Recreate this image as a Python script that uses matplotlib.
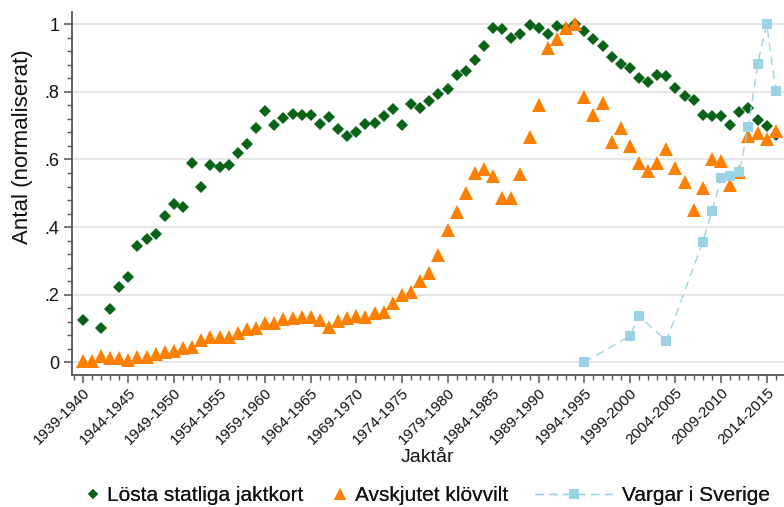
import numpy as np
import matplotlib
matplotlib.use("Agg")
import matplotlib.pyplot as plt
from matplotlib.lines import Line2D
from matplotlib.ticker import FixedLocator, MultipleLocator

plt.rcParams['font.family'] = ['Liberation Sans', 'DejaVu Sans']

years = np.arange(1939, 2016)

jaktkort = [0.125, np.nan, 0.101, 0.158, 0.223, 0.251, 0.345, 0.366, 0.379, 0.432,
            0.469, 0.460, 0.589, 0.518, 0.584, 0.579, 0.584, 0.620, 0.646, 0.694,
            0.744, 0.702, 0.722, 0.736, 0.732, 0.732, 0.704, 0.725, 0.690, 0.670,
            0.682, 0.704, 0.707, 0.728, 0.749, 0.703, 0.765, 0.751, 0.773, 0.793,
            0.809, 0.850, 0.863, 0.894, 0.937, 0.990, 0.985, 0.960, 0.970, 0.998,
            0.990, 0.970, 0.995, 0.990, 1.000, 0.981, 0.955, 0.937, 0.904, 0.883,
            0.871, 0.842, 0.829, 0.851, 0.846, 0.810, 0.788, 0.776, 0.731, 0.728,
            0.728, 0.703, 0.740, 0.752, 0.717, 0.699, 0.672]

klovvilt = [0.005, 0.005, 0.020, 0.012, 0.012, 0.008, 0.017, 0.017, 0.025, 0.031,
            0.033, 0.041, 0.044, 0.066, 0.074, 0.074, 0.074, 0.086, 0.099, 0.101,
            0.115, 0.117, 0.127, 0.130, 0.135, 0.135, 0.125, 0.104, 0.123, 0.130,
            0.137, 0.135, 0.145, 0.150, 0.175, 0.199, 0.207, 0.241, 0.263, 0.317,
            0.391, 0.445, 0.502, 0.561, 0.571, 0.551, 0.485, 0.485, 0.557, 0.667,
            0.761, 0.929, 0.957, 0.990, 1.000, 0.784, 0.732, 0.768, 0.653, 0.692,
            0.641, 0.589, 0.567, 0.589, 0.630, 0.576, 0.534, 0.451, 0.515, 0.601,
            0.594, 0.523, 0.564, 0.670, 0.677, 0.660, 0.684]

varg_years = [1994, 1999, 2000, 2003, 2007, 2008, 2009, 2010, 2011, 2012, 2013, 2014, 2015]
vargar = [0.0, 0.078, 0.137, 0.063, 0.357, 0.448, 0.544, 0.552, 0.562, 0.697, 0.882, 1.0, 0.804]

tick_years = list(range(1939, 2015, 5))
tick_labels = [f"{y}-{y + 1}" for y in tick_years]
ytick_vals = [0, 0.2, 0.4, 0.6, 0.8, 1.0]
ytick_labels = ["0", ".2", ".4", ".6", ".8", "1"]

names = ["Lösta statliga jaktkort", "Avskjutet klövvilt", "Vargar i Sverige"]

GREEN = "#086316"
ORANGE = "#ff8000"
BLUE = "#9ad4e4"
SPINE = "#555555"
DASH = (0, (6, 4))

fig = plt.figure(figsize=(7.84, 5.07), dpi=100)
ax = fig.add_axes([0.0915, 0.2604, 0.9213, 0.7160])

ax.plot(years, jaktkort, linestyle='none', marker='D', markersize=6.2,
        color=GREEN, markeredgewidth=0, zorder=3)
ax.plot(years, klovvilt, linestyle='none', marker='^', markersize=10,
        color=ORANGE, markeredgewidth=0, zorder=4)
ax.plot(varg_years, vargar, linestyle=DASH, linewidth=1.0, marker='s',
        markersize=7.5, color=BLUE, markeredgewidth=0, zorder=5)

ax.set_xlim(1937.79, 2017.0)
ax.set_ylim(-0.0376, 1.0364)

ax.yaxis.set_major_locator(FixedLocator(ytick_vals))
ax.set_yticklabels(ytick_labels, fontsize=13)
ax.yaxis.set_minor_locator(MultipleLocator(0.04))
ax.xaxis.set_major_locator(FixedLocator(tick_years))
ax.set_xticklabels(tick_labels, fontsize=11, rotation=45, ha='right',
                   va='top', rotation_mode='anchor')
ax.xaxis.set_minor_locator(MultipleLocator(1))

ax.tick_params(axis='both', which='major', direction='out', length=6,
               width=1.1, color=SPINE, labelcolor='#111111')
ax.tick_params(axis='both', which='minor', direction='out', length=3.5,
               width=1.0, color=SPINE)
ax.tick_params(axis='x', which='major', pad=2)
ax.tick_params(axis='y', which='major', pad=3)

ax.grid(axis='y', which='major', color='#e4e4e4', linewidth=1.3, zorder=0)
ax.set_axisbelow(True)

for side in ['top', 'right']:
    ax.spines[side].set_visible(False)
for side in ['left', 'bottom']:
    ax.spines[side].set_color(SPINE)
    ax.spines[side].set_linewidth(1.3)

ax.set_xlabel("Jaktår", fontsize=14, va='center', ha='center', color='#111111')
ax.xaxis.set_label_coords(0.493, -0.2287)
ax.set_ylabel("Antal (normaliserat)", fontsize=16, va='center', ha='center', color='#111111')
ax.yaxis.set_label_coords(-0.0688, 0.628)

h1 = Line2D([], [], linestyle='none', marker='D', markersize=5, color=GREEN, markeredgewidth=0)
h2 = Line2D([], [], linestyle='none', marker='^', markersize=9, color=ORANGE, markeredgewidth=0)
h3 = Line2D([], [], linestyle=DASH, linewidth=1.0, marker='s', markersize=7.5,
            color=BLUE, markeredgewidth=0)

leg_y = 0.022
for h, name, x0, hl, tp in [(h1, names[0], 88 / 784, 0.5, 0.4),
                            (h2, names[1], 335 / 784, 0.5, 0.45),
                            (h3, names[2], 535 / 784, 3.7, 0.5)]:
    lg = fig.legend(handles=[h], labels=[name], loc='center left',
                    bbox_to_anchor=(x0, leg_y), frameon=False, fontsize=15,
                    handlelength=hl, handletextpad=tp, borderpad=0,
                    borderaxespad=0, labelcolor='#111111')
    fig.add_artist(lg)

fig.savefig("out.png", dpi=100)
